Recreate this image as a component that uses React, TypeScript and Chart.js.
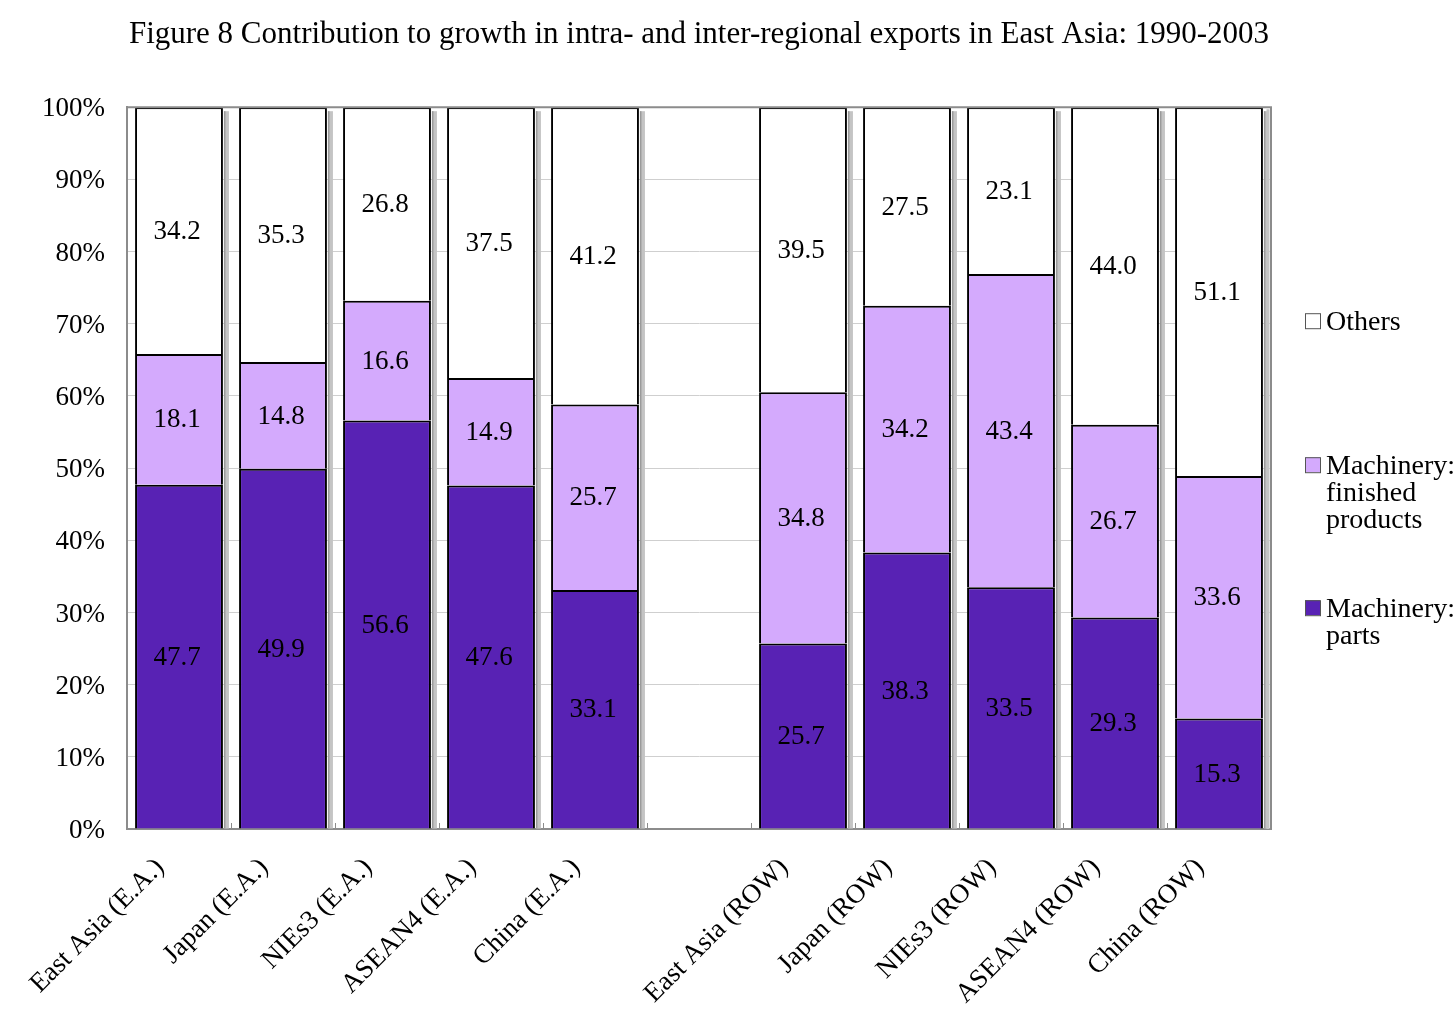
import React, { useEffect, useRef } from "react";
import { Chart, registerables } from "chart.js";

Chart.register(...registerables);

const categories = [
  "East Asia (E.A.)",
  "Japan (E.A.)",
  "NIEs3 (E.A.)",
  "ASEAN4 (E.A.)",
  "China (E.A.)",
  "",
  "East Asia (ROW)",
  "Japan (ROW)",
  "NIEs3 (ROW)",
  "ASEAN4 (ROW)",
  "China (ROW)",
];

const machineryParts = [47.7, 49.9, 56.6, 47.6, 33.1, null, 25.7, 38.3, 33.5, 29.3, 15.3];
const machineryFinished = [18.1, 14.8, 16.6, 14.9, 25.7, null, 34.8, 34.2, 43.4, 26.7, 33.6];
const others = [34.2, 35.3, 26.8, 37.5, 41.2, null, 39.5, 27.5, 23.1, 44.0, 51.1];

const yTicks = [0, 10, 20, 30, 40, 50, 60, 70, 80, 90, 100];

const titleText =
  "Figure 8 Contribution to growth in intra- and inter-regional exports in East Asia: 1990-2003";

const legendItems = [
  { lines: ["Others"], color: "#FFFFFF" },
  { lines: ["Machinery:", "finished", "products"], color: "#D4AAFD" },
  { lines: ["Machinery:", "parts"], color: "#5822B4" },
];

const FONT = '"Liberation Serif", "Times New Roman", serif';

const shadowPlugin = {
  id: "barShadow",
  beforeDatasetsDraw(chart: any) {
    const ctx = chart.ctx;
    const n = chart.data.labels.length;
    const topMeta = chart.getDatasetMeta(chart.data.datasets.length - 1);
    const botMeta = chart.getDatasetMeta(0);
    ctx.save();
    for (let i = 0; i < n; i++) {
      const top = topMeta.data[i];
      const bot = botMeta.data[i];
      if (!top || !bot || chart.data.datasets[0].data[i] == null) continue;
      const right = top.x + top.width / 2;
      ctx.fillStyle = "#c4c4c4";
      ctx.fillRect(right + 1, top.y + 4, 5, bot.base - top.y - 4);
      ctx.fillStyle = "#9a9a9a";
      ctx.fillRect(right + 1, top.y + 4, 1.5, bot.base - top.y - 4);
    }
    ctx.restore();
  },
  afterDatasetsDraw(chart: any) {
    const { ctx, chartArea } = chart;
    const xs = chart.scales.x;
    ctx.save();
    ctx.strokeStyle = "#8c8c8c";
    ctx.lineWidth = 2;
    ctx.beginPath();
    ctx.moveTo(chartArea.left, chartArea.top);
    ctx.lineTo(chartArea.right, chartArea.top);
    ctx.lineTo(chartArea.right, chartArea.bottom);
    ctx.stroke();
    ctx.strokeStyle = "#c4c4c4";
    ctx.lineWidth = 3;
    ctx.beginPath();
    ctx.moveTo(chartArea.right - 3, chartArea.top + 2);
    ctx.lineTo(chartArea.right - 3, chartArea.bottom);
    ctx.stroke();
    const n = chart.data.labels.length;
    ctx.strokeStyle = "#8c8c8c";
    ctx.lineWidth = 1;
    for (let i = 1; i < n; i++) {
      const x = Math.round((xs.getPixelForValue(i - 1) + xs.getPixelForValue(i)) / 2) + 0.5;
      ctx.beginPath();
      ctx.moveTo(x, chartArea.bottom);
      ctx.lineTo(x, chartArea.bottom - 6);
      ctx.stroke();
    }
    ctx.restore();
  },
};

const labelPlugin = {
  id: "valueLabels",
  afterDatasetsDraw(chart: any) {
    const ctx = chart.ctx;
    ctx.save();
    ctx.font = `27px ${FONT}`;
    ctx.fillStyle = "#000";
    ctx.textAlign = "center";
    ctx.textBaseline = "middle";
    chart.data.datasets.forEach((ds: any, di: number) => {
      const meta = chart.getDatasetMeta(di);
      meta.data.forEach((el: any, i: number) => {
        const v = ds.data[i];
        if (v == null) return;
        const y = (el.y + el.base) / 2;
        ctx.fillText(v.toFixed(1), el.x - 2, y + 1);
      });
    });
    ctx.restore();
  },
};

const legendPlugin = {
  id: "sideLegend",
  afterDraw(chart: any) {
    const { ctx, chartArea } = chart;
    const x0 = chartArea.right + 34;
    const offsets = [214, 358, 501];
    ctx.save();
    ctx.font = `28px ${FONT}`;
    ctx.textBaseline = "middle";
    ctx.textAlign = "left";
    legendItems.forEach((item, k) => {
      const y = chartArea.top + offsets[k];
      ctx.fillStyle = item.color;
      ctx.fillRect(x0, y - 8, 15, 15);
      ctx.strokeStyle = "#555";
      ctx.lineWidth = 1;
      ctx.strokeRect(x0 + 0.5, y - 7.5, 15, 15);
      ctx.fillStyle = "#000";
      item.lines.forEach((line, j) => {
        ctx.fillText(line, x0 + 21, y + 1 + j * 27);
      });
    });
    ctx.restore();
  },
};

export default function App() {
  const ref = useRef<HTMLCanvasElement>(null);

  useEffect(() => {
    if (!ref.current) return;
    Chart.defaults.font.family = FONT;
    const chart = new Chart(ref.current, {
      type: "bar",
      data: {
        labels: categories,
        datasets: [
          {
            label: "Machinery: parts",
            data: machineryParts,
            backgroundColor: "#5822B4",
            borderColor: "#000",
            borderWidth: 2,
          },
          {
            label: "Machinery: finished products",
            data: machineryFinished,
            backgroundColor: "#D4AAFD",
            borderColor: "#000",
            borderWidth: 2,
          },
          {
            label: "Others",
            data: others,
            backgroundColor: "#FFFFFF",
            borderColor: "#000",
            borderWidth: 2,
          },
        ] as any,
      },
      options: {
        responsive: false,
        animation: false,
        layout: { padding: { left: 0, right: 185, top: 0, bottom: 0 } },
        datasets: { bar: { categoryPercentage: 1, barPercentage: 0.845 } },
        plugins: {
          legend: { display: false },
          tooltip: { enabled: false },
          title: {
            display: true,
            text: titleText,
            fullSize: false,
            color: "#000",
            font: { size: 31, weight: "normal", family: FONT },
            padding: { top: 16, bottom: 54 },
          },
        },
        scales: {
          x: {
            stacked: true,
            grid: { display: false, drawTicks: false },
            border: { display: true, color: "#8c8c8c", width: 2 },
            ticks: {
              color: "#000",
              font: { size: 27, family: FONT },
              minRotation: 45,
              maxRotation: 45,
              padding: 23,
              labelOffset: -19,
              autoSkip: false,
            },
            afterFit: (s: any) => {
              s.height = 203;
            },
          },
          y: {
            stacked: true,
            min: 0,
            max: 100,
            afterBuildTicks: (s: any) => {
              s.ticks = yTicks.map((v) => ({ value: v }));
            },
            grid: {
              drawTicks: false,
              color: "#cfcfcf",
              lineWidth: 1,
            },
            border: { display: true, color: "#8c8c8c", width: 2 },
            ticks: {
              color: "#000",
              font: { size: 27, family: FONT },
              padding: 22,
              labelOffset: 2,
              callback: (v: any) => `${v}%`,
            },
            afterFit: (s: any) => {
              s.width = 127;
            },
          },
        },
      },
      plugins: [shadowPlugin, labelPlugin, legendPlugin],
    });
    return () => chart.destroy();
  }, []);

  return (
    <div style={{ position: "absolute", left: 0, top: 0, width: 1456, height: 1032, background: "#fff" }}>
      <canvas ref={ref} width={1456} height={1032} style={{ width: 1456, height: 1032 }} />
    </div>
  );
}
